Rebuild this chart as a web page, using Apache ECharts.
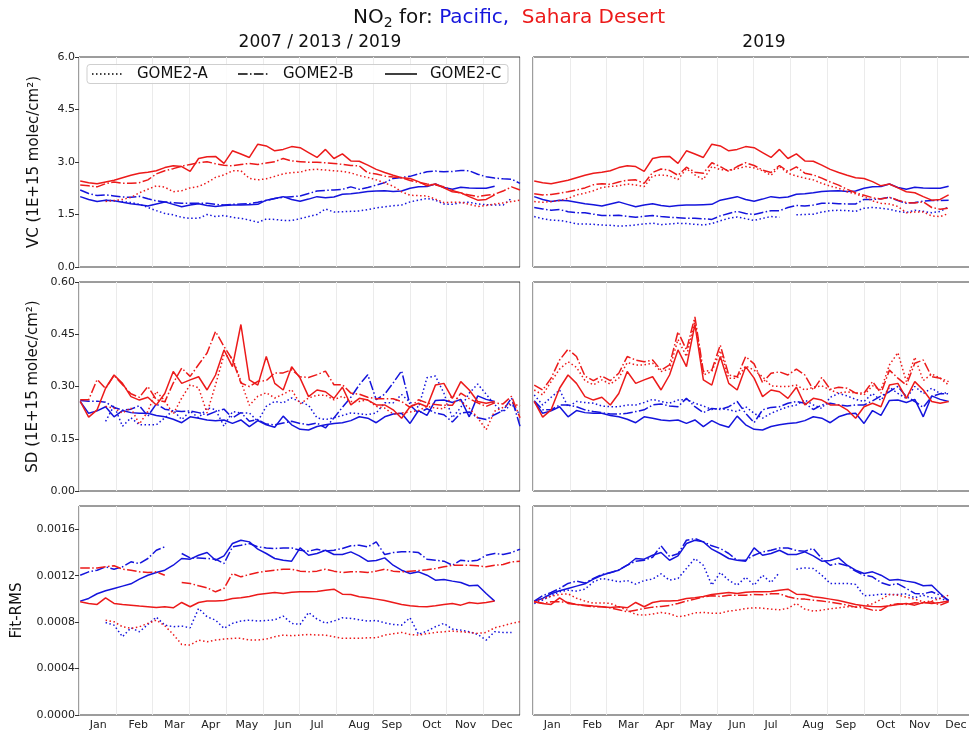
<!DOCTYPE html>
<html>
<head>
<meta charset="utf-8">
<title>NO2 for Pacific and Sahara Desert</title>
<script src="https://cdn.jsdelivr.net/npm/echarts@6/dist/echarts.min.js"></script>
<style>
  html, body { margin: 0; padding: 0; background: #ffffff; }
  #chart { width: 969px; height: 736px; }
</style>
</head>
<body>
<div id="chart"></div>
<script>
// Weekly sampling days (day of year)
const weekDays = [1, 8, 15, 22, 29, 36, 43, 50, 57, 64, 71, 78, 85, 92, 99, 106, 113, 120, 127,
  134, 141, 148, 155, 162, 169, 176, 183, 190, 197, 204, 211, 218, 225, 232, 239, 246, 253,
  260, 267, 274, 281, 288, 295, 302, 309, 316, 323, 330, 337, 344, 351, 358, 365];

const monthNames = ['Jan', 'Feb', 'Mar', 'Apr', 'May', 'Jun', 'Jul', 'Aug', 'Sep', 'Oct', 'Nov', 'Dec'];
const monthLabelDays = [16, 49, 79, 109, 139, 169, 197, 232, 259, 292, 320, 350];

const vcTicks = [0, 1.5, 3.0, 4.5, 6.0];
const sdTicks = [0, 0.15, 0.30, 0.45, 0.60];
const rmsTicks = [0, 0.0004, 0.0008, 0.0012, 0.0016];

// ---------------- VC (1E+15 molec/cm2) ----------------
const vcPacificA2007 = [null, null, null,
  1.91, 1.89, 1.87, 1.84, 1.79, 1.70, 1.61, 1.53, 1.49, 1.42,
  1.39, 1.39, 1.50, 1.44, 1.47, 1.42, 1.39, 1.34, 1.28, 1.37,
  1.36, 1.33, 1.33, 1.38, 1.44, 1.50, 1.66, 1.57, 1.58, 1.59,
  1.60, 1.64, 1.69, 1.72, 1.75, 1.77, 1.86, 1.91, 1.96, 1.91,
  1.80, 1.79, 1.84, 1.85, 1.80, 1.78, 1.77, 1.77, 1.96, null];
const vcPacificB2013 = [2.20, 2.10, 2.04, 2.06, 2.03, 2.00, 1.99, 2.02, 1.95, 1.89,
  1.86, 1.84, 1.82, 1.82, 1.82, 1.82, 1.79, 1.77, 1.79, 1.80,
  1.81, 1.85, 1.90, 1.96, 1.99, 2.01, 2.03, 2.10, 2.17, 2.19,
  2.20, 2.22, 2.29, 2.22, 2.27, 2.34, 2.41, 2.53, 2.56, 2.59,
  2.66, 2.72, 2.74, 2.72, 2.73, 2.76, 2.75, 2.65, 2.58, 2.54,
  2.52, 2.51, 2.39];
const vcPacificC2019 = [2.01, 1.93, 1.87, 1.91, 1.89, 1.85, 1.81, 1.78, 1.74, 1.80,
  1.86, 1.79, 1.72, 1.77, 1.81, 1.76, 1.73, 1.76, 1.77, 1.77,
  1.78, 1.79, 1.91, 1.96, 2.01, 1.93, 1.88, 1.94, 2.01, 1.98,
  2.00, 2.08, 2.09, 2.12, 2.16, 2.17, 2.18, 2.16, 2.17, 2.25,
  2.29, 2.30, 2.37, 2.27, 2.22, 2.28, 2.26, 2.25, 2.25, 2.31];
const vcPacificA2019 = [1.44, 1.38, 1.34, 1.33, 1.29, 1.23, 1.23, 1.22, 1.20, 1.19,
  1.17, 1.18, 1.20, 1.23, 1.25, 1.21, 1.23, 1.25, 1.24, 1.22,
  1.20, 1.24, 1.32, 1.39, 1.43, 1.38, 1.33, 1.39, 1.44, 1.42,
  null, 1.49, 1.50, 1.51, 1.57, 1.61, 1.62, 1.61, 1.59, 1.68,
  1.70, 1.68, 1.65, 1.59, 1.56, 1.62, 1.59, 1.55, 1.59, 1.72];
const vcPacificB2019 = [1.70, 1.66, 1.62, 1.64, 1.58, 1.55, 1.55, 1.51, 1.47, 1.47,
  1.48, 1.45, 1.42, 1.45, 1.47, 1.44, 1.42, 1.41, 1.39, 1.39,
  1.38, 1.36, 1.46, 1.53, 1.59, 1.53, 1.50, 1.56, 1.61, 1.61,
  1.70, 1.76, 1.74, 1.77, 1.82, 1.82, 1.81, 1.80, 1.80, 1.93,
  1.93, 1.95, 1.99, 1.90, 1.82, 1.84, 1.88, 1.90, 1.90, 1.91];
const vcSaharaA2007 = [null, null, null,
  1.87, 1.90, 1.93, 1.99, 2.12, 2.22, 2.32, 2.28, 2.15, 2.18,
  2.26, 2.30, 2.41, 2.56, 2.63, 2.75, 2.75, 2.53, 2.49, 2.52,
  2.59, 2.66, 2.70, 2.71, 2.78, 2.79, 2.77, 2.75, 2.73, 2.69,
  2.61, 2.56, 2.49, 2.40, 2.31, 2.15, 2.05, 2.04, 2.03, 1.94,
  1.84, 1.85, 1.85, 1.79, 1.73, 1.76, 1.80, 1.83, 1.87, 1.91];
const vcSaharaB2013 = [2.34, 2.32, 2.29, 2.38, 2.43, 2.39, 2.39, 2.41, 2.49, 2.66,
  2.75, 2.81, 2.88, 2.93, 2.98, 3.01, 2.95, 2.91, 2.89, 2.93,
  2.96, 2.93, 2.97, 3.01, 3.10, 3.03, 3.01, 2.99, 2.99, 2.98,
  2.96, 2.93, 2.90, 2.89, 2.69, 2.66, 2.60, 2.57, 2.55, 2.47,
  2.42, 2.37, 2.34, 2.29, 2.19, 2.11, 2.06, 2.01, 2.05, 2.08,
  2.17, 2.29, 2.20];
const vcSaharaC2019 = [2.46, 2.41, 2.38, 2.43, 2.48, 2.55, 2.62, 2.68, 2.71, 2.75,
  2.84, 2.89, 2.87, 2.73, 3.10, 3.15, 3.16, 2.96, 3.32, 3.23,
  3.13, 3.51, 3.46, 3.32, 3.36, 3.44, 3.41, 3.27, 3.13, 3.36,
  3.10, 3.23, 3.03, 3.02, 2.91, 2.79, 2.70, 2.62, 2.55, 2.53,
  2.44, 2.32, 2.37, 2.26, 2.15, 2.12, 2.01, 1.91, 1.93, 2.06];
const vcSaharaA2019 = [1.87, 1.85, 1.87, 1.90, 1.96, 2.06, 2.11, 2.18, 2.27, 2.30,
  2.32, 2.37, 2.34, 2.30, 2.60, 2.63, 2.60, 2.50, 2.81, 2.63,
  2.50, 2.87, 2.78, 2.77, 2.81, 2.87, 2.83, 2.75, 2.62, 2.87,
  2.68, 2.60, 2.54, 2.49, 2.39, 2.31, 2.25, 2.15, 2.09, 2.01,
  1.89, 1.82, 1.80, 1.73, 1.55, 1.57, 1.57, 1.46, 1.44, 1.53];
const vcSaharaB2019 = [2.09, 2.06, 2.07, 2.11, 2.15, 2.20, 2.26, 2.35, 2.38, 2.36,
  2.43, 2.48, 2.49, 2.39, 2.70, 2.80, 2.76, 2.62, 2.85, 2.71,
  2.68, 2.98, 2.87, 2.73, 2.87, 2.98, 2.90, 2.77, 2.70, 2.90,
  2.73, 2.86, 2.68, 2.63, 2.54, 2.43, 2.34, 2.22, 2.12, 2.05,
  1.98, 1.94, 1.99, 1.91, 1.84, 1.83, 1.86, 1.70, 1.65, 1.68];

// ---------------- SD (1E+15 molec/cm2) ----------------
const sdPacificA2007 = [null, null, null,
  0.200, 0.245, 0.186, 0.210, 0.190, 0.190, 0.190, 0.210, 0.232, 0.205,
  0.229, 0.210, 0.238, 0.234, 0.186, 0.228, 0.224, 0.224, 0.200, 0.243,
  0.257, 0.253, 0.267, 0.256, 0.246, 0.210, 0.205, 0.210, 0.217, 0.224,
  0.222, 0.219, 0.224, 0.253, 0.253, 0.277, 0.255, 0.240, 0.325, 0.330,
  0.281, 0.210, 0.240, 0.281, 0.307, 0.278, 0.248, 0.227, 0.250, 0.219];
const sdPacificB2013 = [0.260, 0.258, 0.258, 0.255, 0.240, 0.232, 0.235, 0.245, 0.215, 0.250,
  0.235, 0.230, 0.228, 0.230, 0.225, 0.218, 0.228, 0.235, 0.210, 0.225,
  0.200, 0.205, 0.192, 0.190, 0.195, 0.200, 0.194, 0.190, 0.195, 0.181,
  0.210, 0.240, 0.269, 0.305, 0.334, 0.262, 0.278, 0.310, 0.345, 0.246,
  0.224, 0.236, 0.224, 0.219, 0.198, 0.224, 0.227, 0.210, 0.205, 0.219,
  0.231, 0.267, 0.186];
const sdPacificC2019 = [0.257, 0.223, 0.230, 0.242, 0.213, 0.231, 0.225, 0.223, 0.223, 0.217,
  0.213, 0.206, 0.196, 0.213, 0.209, 0.204, 0.202, 0.204, 0.194, 0.204,
  0.185, 0.202, 0.190, 0.183, 0.215, 0.190, 0.177, 0.175, 0.185, 0.190,
  0.194, 0.196, 0.202, 0.213, 0.209, 0.196, 0.213, 0.221, 0.223, 0.194,
  0.231, 0.217, 0.260, 0.261, 0.254, 0.263, 0.213, 0.273, 0.263, 0.257];
const sdPacificA2019 = [0.276, 0.247, 0.269, 0.290, 0.242, 0.257, 0.254, 0.252, 0.244, 0.242,
  0.242, 0.247, 0.247, 0.254, 0.263, 0.257, 0.252, 0.261, 0.263, 0.252,
  0.244, 0.234, 0.237, 0.233, 0.228, 0.242, 0.223, 0.209, 0.223, 0.233,
  0.242, 0.247, 0.261, 0.247, 0.237, 0.269, 0.280, 0.273, 0.263, 0.257,
  0.280, 0.260, 0.298, 0.280, 0.266, 0.300, 0.280, 0.295, 0.280, 0.282];
const sdPacificB2019 = [0.259, 0.233, 0.233, 0.247, 0.247, 0.242, 0.233, 0.228, 0.225, 0.221,
  0.221, 0.223, 0.228, 0.233, 0.247, 0.250, 0.244, 0.242, 0.266, 0.242,
  0.225, 0.237, 0.234, 0.242, 0.257, 0.223, 0.196, 0.233, 0.240, 0.242,
  0.252, 0.257, 0.252, 0.234, 0.247, 0.252, 0.247, 0.244, 0.247, 0.247,
  0.259, 0.273, 0.285, 0.300, 0.271, 0.257, 0.240, 0.271, 0.279, 0.279];
const sdSaharaA2007 = [null, null, null,
  0.243, 0.238, 0.224, 0.238, 0.192, 0.229, 0.286, 0.259, 0.221, 0.267,
  0.305, 0.296, 0.224, 0.305, 0.391, 0.382, 0.315, 0.246, 0.272, 0.282,
  0.267, 0.278, 0.291, 0.250, 0.267, 0.275, 0.275, 0.262, 0.272, 0.257,
  0.257, 0.262, 0.243, 0.238, 0.221, 0.224, 0.227, 0.231, 0.243, 0.238,
  0.236, 0.275, 0.257, 0.238, 0.210, 0.176, 0.229, 0.240, 0.253, 0.243];
const sdSaharaB2013 = [0.262, 0.262, 0.320, 0.294, 0.332, 0.305, 0.279, 0.269, 0.300, 0.262,
  0.256, 0.310, 0.353, 0.329, 0.363, 0.396, 0.458, 0.415, 0.377, 0.310,
  0.300, 0.315, 0.317, 0.339, 0.339, 0.348, 0.328, 0.326, 0.334, 0.344,
  0.305, 0.305, 0.281, 0.278, 0.269, 0.265, 0.265, 0.265, 0.257, 0.240,
  0.262, 0.253, 0.248, 0.246, 0.246, 0.281, 0.265, 0.253, 0.243, 0.253,
  0.250, 0.272, 0.210];
const sdSaharaC2019 = [0.257, 0.212, 0.233, 0.295, 0.333, 0.309, 0.271, 0.261, 0.269, 0.247,
  0.280, 0.343, 0.309, 0.319, 0.328, 0.290, 0.333, 0.405, 0.357, 0.478,
  0.319, 0.304, 0.386, 0.309, 0.290, 0.357, 0.324, 0.271, 0.290, 0.285,
  0.266, 0.298, 0.247, 0.266, 0.261, 0.247, 0.247, 0.233, 0.209, 0.242,
  0.252, 0.242, 0.304, 0.309, 0.266, 0.314, 0.290, 0.257, 0.252, 0.257];
const sdSaharaA2019 = [0.290, 0.276, 0.314, 0.350, 0.371, 0.355, 0.317, 0.305, 0.319, 0.307,
  0.324, 0.369, 0.362, 0.362, 0.367, 0.343, 0.350, 0.435, 0.386, 0.489,
  0.333, 0.343, 0.403, 0.324, 0.324, 0.359, 0.347, 0.328, 0.302, 0.300,
  0.300, 0.304, 0.290, 0.298, 0.302, 0.290, 0.281, 0.285, 0.281, 0.276,
  0.302, 0.290, 0.362, 0.397, 0.314, 0.384, 0.317, 0.336, 0.324, 0.304];
const sdSaharaB2019 = [0.304, 0.290, 0.324, 0.376, 0.407, 0.386, 0.330, 0.317, 0.330, 0.317,
  0.338, 0.386, 0.376, 0.371, 0.376, 0.347, 0.362, 0.457, 0.405, 0.500,
  0.343, 0.347, 0.419, 0.333, 0.328, 0.386, 0.365, 0.311, 0.338, 0.342,
  0.333, 0.350, 0.333, 0.290, 0.326, 0.292, 0.298, 0.295, 0.281, 0.281,
  0.314, 0.281, 0.347, 0.324, 0.304, 0.367, 0.376, 0.328, 0.324, 0.314];

// ---------------- Fit-RMS ----------------
const rmsPacificA2007 = [null, null, null,
  7.97e-4, 7.74e-4, 6.74e-4, 7.51e-4, 7.17e-4, 7.80e-4, 8.43e-4, 7.74e-4, 7.60e-4, 7.66e-4,
  7.51e-4, 9.18e-4, 8.46e-4, 8.17e-4, 7.46e-4, 7.89e-4, 8.09e-4, 8.17e-4, 8.09e-4, 8.14e-4,
  8.20e-4, 8.52e-4, 7.89e-4, 7.80e-4, 8.83e-4, 8.26e-4, 7.91e-4, 8.09e-4, 8.37e-4, 8.32e-4,
  8.20e-4, 8.09e-4, 8.14e-4, 7.94e-4, 7.80e-4, 7.74e-4, 8.37e-4, 6.94e-4, 7.23e-4, 7.60e-4,
  7.89e-4, 7.40e-4, 7.31e-4, 7.17e-4, 6.94e-4, 6.45e-4, 7.17e-4, 7.11e-4, 7.11e-4, null];
const rmsPacificB2013 = [12.04e-4, 12.33e-4, 12.47e-4, 12.76e-4, 12.56e-4, 12.76e-4, 13.19e-4, 13.05e-4, 13.48e-4, 14.19e-4,
  14.48e-4, null, 13.91e-4, 13.53e-4, 13.53e-4, 13.48e-4, 13.42e-4, 13.05e-4, 14.48e-4, 14.62e-4,
  14.77e-4, 14.48e-4, 14.39e-4, 14.34e-4, 14.39e-4, 14.39e-4, 14.19e-4, 14.11e-4, 14.28e-4, 14.11e-4,
  14.19e-4, 14.34e-4, 14.57e-4, 14.62e-4, 14.48e-4, 14.91e-4, 13.82e-4, 13.99e-4, 14.05e-4, 14.05e-4,
  13.99e-4, 13.42e-4, 13.33e-4, 13.25e-4, 12.90e-4, 13.33e-4, 13.25e-4, 13.33e-4, 13.76e-4, 13.91e-4,
  13.82e-4, 13.99e-4, 14.28e-4];
const rmsPacificC2019 = [9.81e-4, 10.04e-4, 10.44e-4, 10.70e-4, 10.90e-4, 11.10e-4, 11.30e-4, 11.70e-4, 12.04e-4, 12.27e-4,
  12.47e-4, 12.90e-4, 13.48e-4, 13.42e-4, 13.76e-4, 13.99e-4, 13.33e-4, 13.71e-4, 14.77e-4, 15.05e-4,
  14.91e-4, 14.28e-4, 13.91e-4, 13.48e-4, 13.33e-4, 13.25e-4, 14.39e-4, 13.76e-4, 13.91e-4, 14.19e-4,
  13.82e-4, 13.82e-4, 14.05e-4, 13.71e-4, 13.25e-4, 13.30e-4, 13.53e-4, 12.90e-4, 12.47e-4, 12.19e-4,
  12.33e-4, 12.04e-4, 11.61e-4, 11.67e-4, 11.53e-4, 11.41e-4, 11.13e-4, 11.18e-4, 10.47e-4, 9.81e-4];
const rmsPacificA2019 = [9.60e-4, 9.89e-4, 10.27e-4, 10.61e-4, 10.75e-4, 10.67e-4, 10.84e-4, 11.47e-4, 11.76e-4, 11.64e-4,
  11.47e-4, 11.58e-4, 11.27e-4, 11.58e-4, 11.70e-4, 12.16e-4, 11.61e-4, 11.76e-4, 12.62e-4, 13.48e-4,
  12.90e-4, 11.18e-4, 12.27e-4, 11.61e-4, 11.18e-4, 11.87e-4, 11.18e-4, 12.04e-4, 11.41e-4, 12.27e-4,
  null, 12.56e-4, 12.67e-4, 12.62e-4, 12.04e-4, 11.33e-4, 11.33e-4, 11.33e-4, 11.24e-4, 10.27e-4,
  10.32e-4, 10.41e-4, 10.38e-4, 10.38e-4, 10.44e-4, 10.09e-4, 10.32e-4, 10.09e-4, 10.04e-4, 9.81e-4];
const rmsPacificB2019 = [9.81e-4, 10.27e-4, 10.55e-4, 10.90e-4, 11.33e-4, 11.53e-4, 11.36e-4, 11.76e-4, 12.10e-4, 12.24e-4,
  12.50e-4, 12.90e-4, 13.25e-4, 13.33e-4, 13.59e-4, 14.57e-4, 13.65e-4, 13.88e-4, 15.05e-4, 15.20e-4,
  14.91e-4, 14.57e-4, 14.34e-4, 13.91e-4, 13.33e-4, 13.33e-4, 13.76e-4, 14.05e-4, 14.19e-4, 14.39e-4,
  14.39e-4, 14.17e-4, 14.11e-4, 14.34e-4, 13.48e-4, 12.90e-4, 13.05e-4, 12.85e-4, 12.39e-4, 12.04e-4,
  11.90e-4, 11.41e-4, 11.18e-4, 11.30e-4, 10.90e-4, 10.47e-4, 10.44e-4, 10.61e-4, 10.32e-4, 9.89e-4];
const rmsSaharaA2007 = [null, null, null,
  8.17e-4, 8.03e-4, 7.60e-4, 7.46e-4, 7.60e-4, 7.89e-4, 8.17e-4, 7.69e-4, 6.94e-4, 6.08e-4,
  6.02e-4, 6.45e-4, 6.31e-4, 6.45e-4, 6.54e-4, 6.60e-4, 6.60e-4, 6.45e-4, 6.45e-4, 6.54e-4,
  6.74e-4, 6.88e-4, 6.83e-4, 6.88e-4, 6.94e-4, 6.88e-4, 6.88e-4, 6.74e-4, 6.60e-4, 6.60e-4,
  6.60e-4, 6.65e-4, 6.65e-4, 6.88e-4, 7.00e-4, 7.11e-4, 6.94e-4, 6.88e-4, 7.00e-4, 7.11e-4,
  7.17e-4, 7.23e-4, 7.17e-4, 7.11e-4, 7.03e-4, 7.11e-4, 7.51e-4, 7.69e-4, 7.89e-4, 8.03e-4];
const rmsSaharaB2013 = [12.67e-4, 12.67e-4, 12.67e-4, 12.76e-4, 12.85e-4, 12.56e-4, 12.47e-4, 12.33e-4, 12.27e-4, 12.33e-4,
  12.04e-4, null, 11.41e-4, 11.33e-4, 11.13e-4, 10.95e-4, 10.61e-4, 10.90e-4, 12.19e-4, 11.90e-4,
  12.10e-4, 12.27e-4, 12.39e-4, 12.47e-4, 12.56e-4, 12.56e-4, 12.39e-4, 12.33e-4, 12.39e-4, 12.56e-4,
  12.39e-4, 12.27e-4, 12.33e-4, 12.33e-4, 12.27e-4, 12.39e-4, 12.56e-4, 12.39e-4, 12.33e-4, 12.39e-4,
  12.44e-4, 12.50e-4, 12.62e-4, 12.76e-4, 12.90e-4, 12.90e-4, 12.90e-4, 12.85e-4, 12.76e-4, 12.90e-4,
  12.96e-4, 13.19e-4, 13.25e-4];
const rmsSaharaC2019 = [9.75e-4, 9.61e-4, 9.52e-4, 10.09e-4, 9.61e-4, 9.52e-4, 9.46e-4, 9.38e-4, 9.32e-4, 9.26e-4,
  9.32e-4, 9.23e-4, 9.69e-4, 9.32e-4, 9.69e-4, 9.81e-4, 9.81e-4, 9.86e-4, 10.04e-4, 10.09e-4,
  10.21e-4, 10.38e-4, 10.47e-4, 10.55e-4, 10.47e-4, 10.58e-4, 10.61e-4, 10.61e-4, 10.64e-4, 10.75e-4,
  10.84e-4, 10.41e-4, 10.38e-4, 10.18e-4, 10.09e-4, 9.98e-4, 9.86e-4, 9.69e-4, 9.52e-4, 9.41e-4,
  9.35e-4, 9.32e-4, 9.41e-4, 9.52e-4, 9.61e-4, 9.46e-4, 9.69e-4, 9.61e-4, 9.69e-4, 9.81e-4];
const rmsSaharaA2019 = [9.75e-4, 9.98e-4, 10.24e-4, 10.38e-4, 10.44e-4, 10.06e-4, 9.81e-4, 9.63e-4, 9.66e-4, 9.61e-4,
  9.32e-4, 9.03e-4, 8.66e-4, 8.60e-4, 8.69e-4, 8.83e-4, 8.72e-4, 8.46e-4, 8.57e-4, 8.80e-4,
  8.83e-4, 8.77e-4, 8.77e-4, 8.95e-4, 9.03e-4, 9.17e-4, 9.23e-4, 9.20e-4, 9.12e-4, 9.06e-4,
  9.20e-4, 9.61e-4, 9.12e-4, 8.95e-4, 9.03e-4, 9.15e-4, 9.23e-4, 9.32e-4, 9.32e-4, 9.41e-4,
  9.58e-4, 9.95e-4, 10.38e-4, 10.32e-4, 10.15e-4, 9.98e-4, 9.75e-4, 9.81e-4, 10.04e-4, 10.32e-4];
const rmsSaharaB2019 = [9.75e-4, 9.63e-4, 9.75e-4, 9.75e-4, 9.69e-4, 9.52e-4, 9.41e-4, 9.32e-4, 9.32e-4, 9.23e-4,
  9.06e-4, 8.89e-4, 9.03e-4, 9.17e-4, 9.29e-4, 9.35e-4, 9.43e-4, 9.61e-4, 9.81e-4, 9.98e-4,
  10.18e-4, 10.27e-4, 10.21e-4, 10.32e-4, 10.32e-4, 10.32e-4, 10.38e-4, 10.35e-4, 10.44e-4, 10.44e-4,
  10.18e-4, 10.01e-4, 9.98e-4, 9.89e-4, 9.81e-4, 9.72e-4, 9.61e-4, 9.46e-4, 9.29e-4, 9.23e-4,
  9.03e-4, 9.03e-4, 9.46e-4, 9.58e-4, 9.52e-4, 9.66e-4, 9.63e-4, 9.75e-4, 9.46e-4, 9.75e-4];

// ---------------- styling & layout ----------------
const FONT = 'DejaVu Sans';
const PACIFIC_COLOR = '#1414dc';
const SAHARA_COLOR = '#ec1a1a';
const INSTRUMENTS = ['GOME2-A', 'GOME2-B', 'GOME2-C'];
const DASHES = [[1.5, 2.5], [9.6, 2.4, 1.5, 2.4], 'solid'];

const COL_LEFT = [79, 533];
const PANEL_W = 441;
const ROW_TOP = [57, 282, 506];
const ROW_H = [210, 209, 209];
const COLUMN_TITLE_X = [320, 764];

const rows = [
  {
    min: 0, max: 6, ticks: vcTicks, digits: 1, name: 'VC (1E+15 molec/cm\u00B2)', nameGap: 37,
    cols: [
      { pacific: [vcPacificA2007, vcPacificB2013, vcPacificC2019], sahara: [vcSaharaA2007, vcSaharaB2013, vcSaharaC2019] },
      { pacific: [vcPacificA2019, vcPacificB2019, vcPacificC2019], sahara: [vcSaharaA2019, vcSaharaB2019, vcSaharaC2019] }
    ]
  },
  {
    min: 0, max: 0.6, ticks: sdTicks, digits: 2, name: 'SD (1E+15 molec/cm\u00B2)', nameGap: 38,
    cols: [
      { pacific: [sdPacificA2007, sdPacificB2013, sdPacificC2019], sahara: [sdSaharaA2007, sdSaharaB2013, sdSaharaC2019] },
      { pacific: [sdPacificA2019, sdPacificB2019, sdPacificC2019], sahara: [sdSaharaA2019, sdSaharaB2019, sdSaharaC2019] }
    ]
  },
  {
    min: 0, max: 0.0018, ticks: rmsTicks, digits: 4, name: 'Fit-RMS', nameGap: 54,
    cols: [
      { pacific: [rmsPacificA2007, rmsPacificB2013, rmsPacificC2019], sahara: [rmsSaharaA2007, rmsSaharaB2013, rmsSaharaC2019] },
      { pacific: [rmsPacificA2019, rmsPacificB2019, rmsPacificC2019], sahara: [rmsSaharaA2019, rmsSaharaB2019, rmsSaharaC2019] }
    ]
  }
];

function toPairs(values) {
  return values.map((v, i) => [weekDays[i], v]);
}

const grids = [], xAxes = [], yAxes = [], series = [];

rows.forEach((row, r) => {
  row.cols.forEach((col, c) => {
    const idx = grids.length;
    grids.push({
      left: COL_LEFT[c], top: ROW_TOP[r], width: PANEL_W, height: ROW_H[r],
      show: true, borderColor: '#3a3a3a', borderWidth: 1, backgroundColor: 'transparent',
      containLabel: false, outerBoundsMode: 'none'
    });
    const bottomRow = r === rows.length - 1;
    xAxes.push({
      type: 'value', gridIndex: idx, min: 0, max: 365, interval: 365 / 12,
      axisLine: { show: false }, axisTick: { show: false },
      splitLine: { show: true, lineStyle: { color: '#ebebeb', width: 1 } },
      axisLabel: bottomRow ? {
        show: true, customValues: monthLabelDays,
        formatter: v => monthNames[monthLabelDays.indexOf(v)] || '',
        fontFamily: FONT, fontSize: 11, color: '#222', margin: 5
      } : { show: false }
    });
    const first = c === 0;
    yAxes.push({
      type: 'value', gridIndex: idx, min: row.min, max: row.max,
      axisLine: { show: false }, splitLine: { show: false },
      axisTick: { show: first, length: 4, customValues: row.ticks, lineStyle: { color: '#333' } },
      axisLabel: {
        show: first, customValues: row.ticks,
        formatter: v => v.toFixed(row.digits),
        fontFamily: FONT, fontSize: 11, color: '#222', margin: 4
      },
      name: first ? row.name : '', nameLocation: 'middle', nameGap: row.nameGap, nameRotate: 90,
      nameTextStyle: { fontFamily: FONT, fontSize: 15, color: '#111' }
    });
    [['pacific', PACIFIC_COLOR], ['sahara', SAHARA_COLOR]].forEach(([region, color]) => {
      col[region].forEach((values, k) => {
        series.push({
          type: 'line', name: INSTRUMENTS[k] + ' ' + region,
          xAxisIndex: idx, yAxisIndex: idx,
          data: toPairs(values),
          symbol: 'none', showSymbol: false, connectNulls: false,
          silent: true, animation: false,
          lineStyle: { color: color, width: 1.5, type: DASHES[k], cap: 'butt' },
          emphasis: { disabled: true }
        });
      });
    });
  });
});

// Title, column headers and the legend box
const graphics = [
  {
    type: 'text', x: 509, y: 18, z: 100,
    style: {
      text: '{n|NO}{s|2}{n| for: }{p|Pacific,}{n|  }{r|Sahara Desert}',
      align: 'center', verticalAlign: 'middle',
      rich: {
        n: { fontFamily: FONT, fontSize: 20, fill: '#111', color: '#111' },
        s: { fontFamily: FONT, fontSize: 14, fill: '#111', color: '#111', padding: [10, 0, 0, 0] },
        p: { fontFamily: FONT, fontSize: 20, fill: PACIFIC_COLOR, color: PACIFIC_COLOR },
        r: { fontFamily: FONT, fontSize: 20, fill: SAHARA_COLOR, color: SAHARA_COLOR }
      }
    }
  },
  {
    type: 'text', x: COLUMN_TITLE_X[0], y: 43, z: 100,
    style: { text: '2007 / 2013 / 2019', font: '17px "DejaVu Sans"', fill: '#111', align: 'center', verticalAlign: 'middle' }
  },
  {
    type: 'text', x: COLUMN_TITLE_X[1], y: 43, z: 100,
    style: { text: '2019', font: '17px "DejaVu Sans"', fill: '#111', align: 'center', verticalAlign: 'middle' }
  },
  {
    type: 'rect', z: 100,
    shape: { x: 87, y: 64.5, width: 421, height: 19, r: 3 },
    style: { fill: 'rgba(255,255,255,0.85)', stroke: '#cfcfcf', lineWidth: 1 }
  }
];
const legendLineX = [[92, 122], [238, 268], [385, 417]];
const legendTextX = [137, 283, 430];
INSTRUMENTS.forEach((label, k) => {
  graphics.push({
    type: 'line', z: 101,
    shape: { x1: legendLineX[k][0], y1: 74, x2: legendLineX[k][1], y2: 74 },
    style: { stroke: '#000', lineWidth: 1.5, lineDash: DASHES[k] === 'solid' ? null : DASHES[k] }
  });
  graphics.push({
    type: 'text', x: legendTextX[k], y: 74, z: 101,
    style: { text: label, font: '15px "DejaVu Sans"', fill: '#111', align: 'left', verticalAlign: 'middle' }
  });
});

const chart = echarts.init(document.getElementById('chart'), null, { renderer: 'canvas' });
chart.setOption({
  animation: false,
  backgroundColor: '#ffffff',
  grid: grids,
  xAxis: xAxes,
  yAxis: yAxes,
  series: series,
  graphic: graphics
});
</script>
</body>
</html>
